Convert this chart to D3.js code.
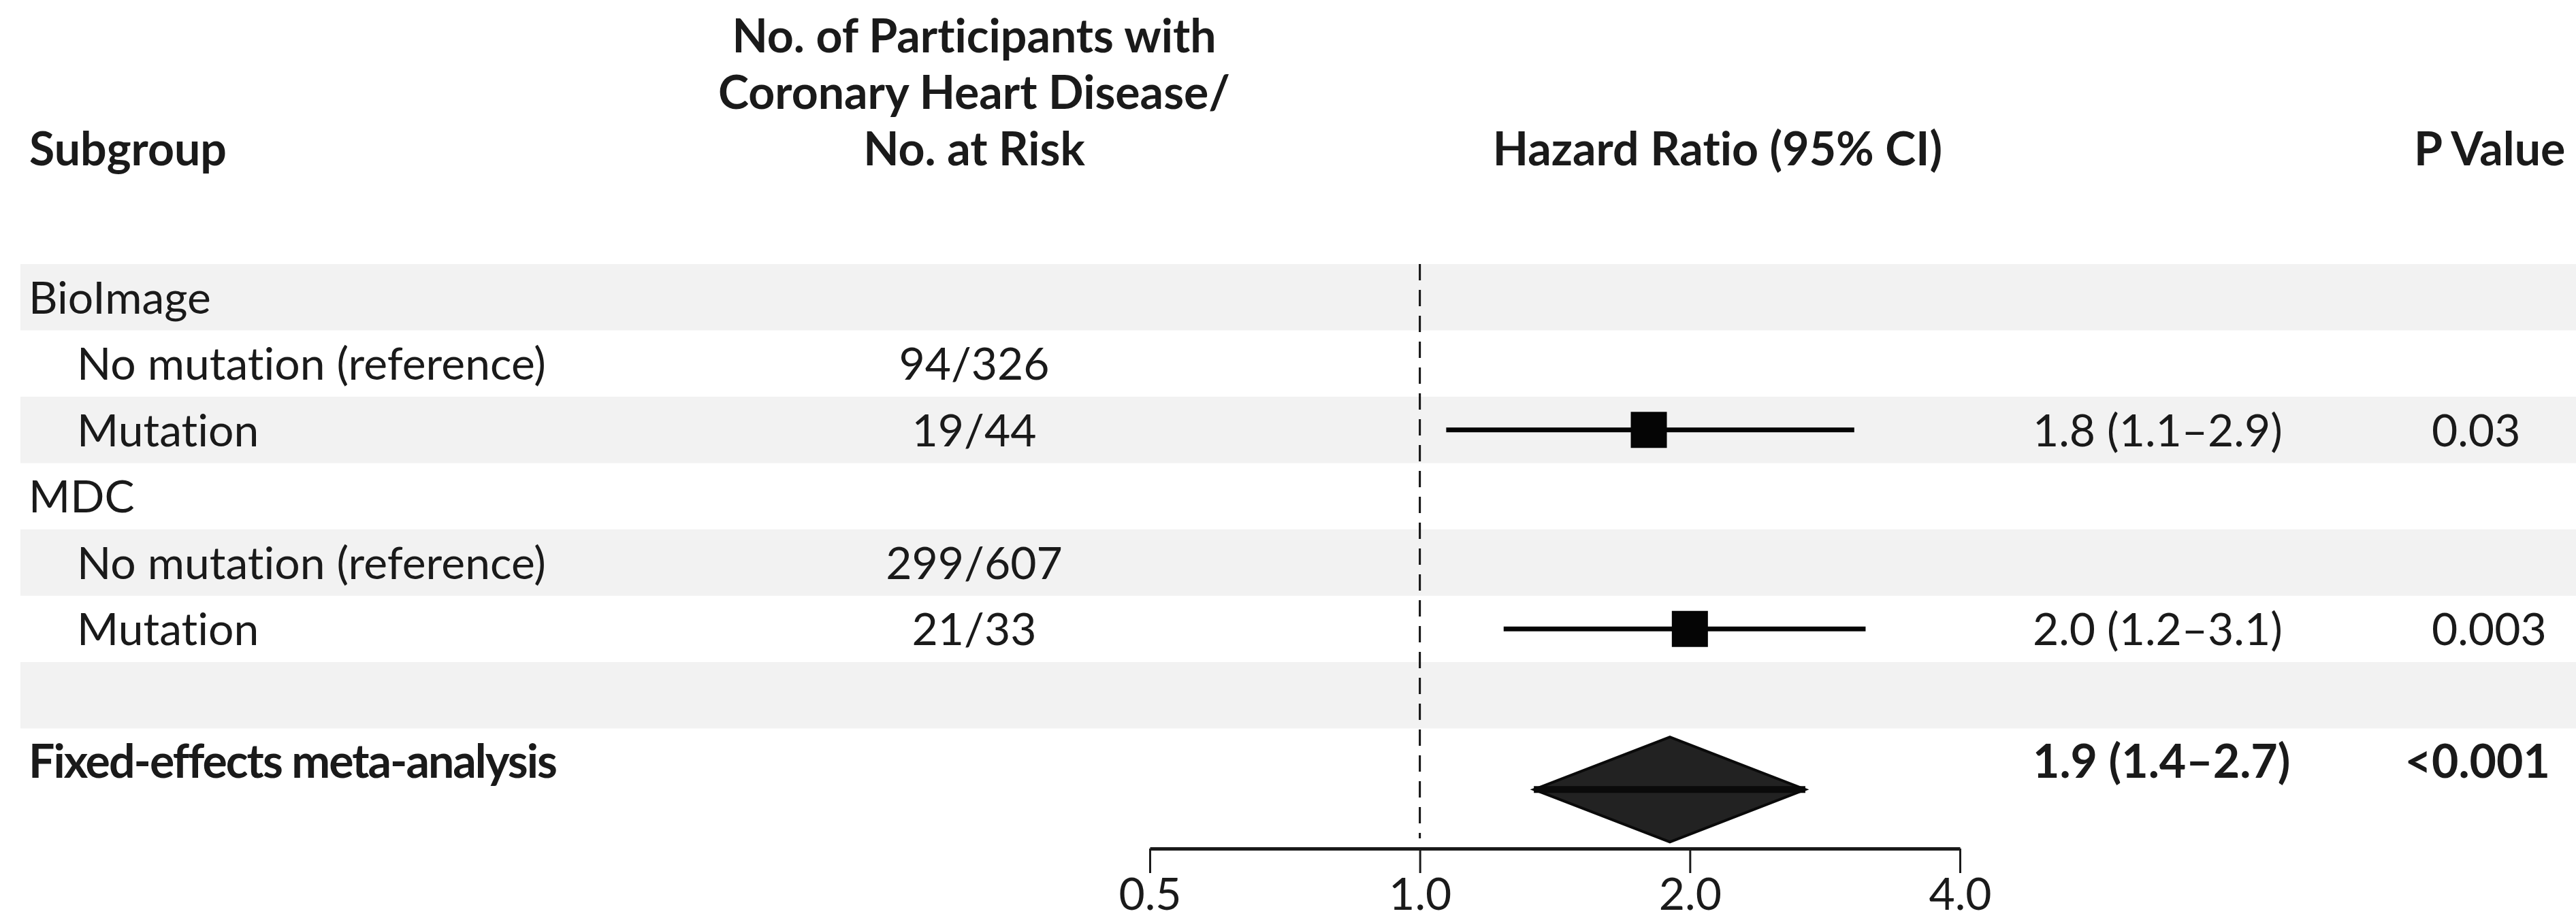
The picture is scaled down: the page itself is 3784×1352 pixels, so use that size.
<!DOCTYPE html>
<html lang="en">
<head>
  <meta charset="UTF-8">
  <title>Forest Plot</title>
  <script src="https://d3js.org/d3.v7.min.js"></script>
  <style>
    body {
      margin: 0;
      padding: 0;
      background: #fff;
    }
    svg text {
      font-family: Lato, "Open Sans", sans-serif;
      font-size: 66px;
      fill: #1a1a1a;
      font-variant-ligatures: none;
      font-feature-settings: "liga" 0, "clig" 0;
    }
    svg text.bold {
      font-weight: bold;
      font-size: 68px;
    }
    svg text.tight {
      letter-spacing: -2px;
    }
  </style>
</head>
<body>
  <div id="chart"></div>

  <script>
    const labels = ["BioImage", "No mutation (reference)", "Mutation", "MDC",
                    "No mutation (reference)", "Mutation", "", "Fixed-effects meta-analysis"];
    const indent = [0, 1, 1, 0, 1, 1, 0, 0];
    const counts = ["", "94/326", "19/44", "", "299/607", "21/33", "", ""];
    const hr = [null, null, 1.8, null, null, 2.0, null, 1.9];
    const ciLow = [null, null, 1.07, null, null, 1.24, null, 1.34];
    const ciHigh = [null, null, 3.05, null, null, 3.14, null, 2.69];
    const hrText = ["", "", "1.8 (1.1–2.9)", "", "", "2.0 (1.2–3.1)", "", "1.9 (1.4–2.7)"];
    const pText = ["", "", "0.03", "", "", "0.003", "", "<0.001"];
    const summaryRow = 7;
    const ticks = [0.5, 1, 2, 4];
    const countHeader = ["No. of Participants with", "Coronary Heart Disease/", "No. at Risk"];

    const width = 3784;
    const height = 1352;

    const svg = d3.select("#chart")
      .append("svg")
      .attr("width", width)
      .attr("height", height);

    const y = d3.scaleBand()
      .domain(d3.range(labels.length))
      .range([388, 388 + labels.length * 97.5]);

    const x = d3.scaleLog()
      .domain([0.5, 4])
      .range([1689, 2879]);

    const mid = i => y(i) + y.bandwidth() / 2;
    const base = i => mid(i) + 24;

    // Shaded bands on every other row
    svg.selectAll(".band")
      .data(d3.range(labels.length).filter(i => i % 2 === 0))
      .enter()
      .append("rect")
      .attr("x", 30)
      .attr("y", d => y(d))
      .attr("width", width - 30)
      .attr("height", y.bandwidth())
      .attr("fill", "#f2f2f2");

    // Headers
    svg.append("text").attr("class", "bold")
      .attr("x", 43).attr("y", 243).text("Subgroup");

    svg.selectAll(".chead")
      .data(countHeader)
      .enter()
      .append("text")
      .attr("class", "bold")
      .attr("x", 1431)
      .attr("y", (d, i) => 77 + i * 83)
      .attr("text-anchor", "middle")
      .text(d => d);

    svg.append("text").attr("class", "bold")
      .attr("x", 2523).attr("y", 243).attr("text-anchor", "middle")
      .text("Hazard Ratio (95% CI)");

    svg.append("text").attr("class", "bold")
      .attr("x", 3546).attr("y", 243).text("P Value");

    // Reference line at 1.0
    svg.append("line")
      .attr("x1", x(1)).attr("x2", x(1))
      .attr("y1", y(0)).attr("y2", 1232)
      .attr("stroke", "#111")
      .attr("stroke-width", 3)
      .attr("stroke-dasharray", "24,14");

    // Row labels
    svg.selectAll(".label")
      .data(labels)
      .enter()
      .append("text")
      .attr("class", (d, i) => i === summaryRow ? "bold tight" : null)
      .attr("x", (d, i) => indent[i] ? 113 : 42)
      .attr("y", (d, i) => base(i))
      .text(d => d);

    svg.selectAll(".count")
      .data(counts)
      .enter()
      .append("text")
      .attr("x", 1431)
      .attr("y", (d, i) => base(i))
      .attr("text-anchor", "middle")
      .text(d => d);

    svg.selectAll(".hrtext")
      .data(hrText)
      .enter()
      .append("text")
      .attr("class", (d, i) => i === summaryRow ? "bold" : null)
      .attr("x", 2986)
      .attr("y", (d, i) => base(i))
      .text(d => d);

    // P values: "<" hangs to the left of the column
    pText.forEach((p, i) => {
      if (!p) return;
      const t = svg.append("text")
        .attr("class", i === summaryRow ? "bold" : null)
        .attr("x", 3572)
        .attr("y", base(i));
      if (p.startsWith("<")) {
        svg.append("text")
          .attr("class", i === summaryRow ? "bold" : null)
          .attr("x", 3572).attr("y", base(i))
          .attr("text-anchor", "end")
          .text("<");
        t.text(p.slice(1));
      } else {
        t.text(p);
      }
    });

    // Study estimates
    const studies = d3.range(labels.length).filter(i => hr[i] != null && i !== summaryRow);

    svg.selectAll(".ci")
      .data(studies)
      .enter()
      .append("line")
      .attr("x1", i => x(ciLow[i]))
      .attr("x2", i => x(ciHigh[i]))
      .attr("y1", i => mid(i))
      .attr("y2", i => mid(i))
      .attr("stroke", "#050505")
      .attr("stroke-width", 7);

    const sq = 53;
    svg.selectAll(".est")
      .data(studies)
      .enter()
      .append("rect")
      .attr("x", i => x(hr[i]) - sq / 2)
      .attr("y", i => mid(i) - sq / 2)
      .attr("width", sq)
      .attr("height", sq)
      .attr("fill", "#050505");

    // Summary diamond
    const dy = mid(summaryRow) + 41;
    const dh = 77;
    svg.append("polygon")
      .attr("points", [
        [x(ciLow[summaryRow]), dy],
        [x(hr[summaryRow]), dy - dh],
        [x(ciHigh[summaryRow]), dy],
        [x(hr[summaryRow]), dy + dh]
      ].map(p => p.join(",")).join(" "))
      .attr("fill", "#222")
      .attr("stroke", "#0a0a0a")
      .attr("stroke-width", 4)
      .attr("stroke-linejoin", "miter");

    svg.append("line")
      .attr("x1", x(ciLow[summaryRow])).attr("x2", x(ciHigh[summaryRow]))
      .attr("y1", dy).attr("y2", dy)
      .attr("stroke", "#0a0a0a")
      .attr("stroke-width", 10);

    // Axis
    const axis = d3.axisBottom(x)
      .tickValues(ticks)
      .tickFormat(d3.format(".1f"))
      .tickSize(36)
      .tickSizeOuter(0)
      .tickPadding(7);

    const g = svg.append("g")
      .attr("transform", "translate(0,1247)")
      .call(axis);

    g.select(".domain").attr("stroke", "#1a1a1a").attr("stroke-width", 5);
    g.selectAll(".tick line").attr("stroke", "#1a1a1a").attr("stroke-width", 3);
    g.selectAll(".tick text")
      .attr("font-family", null)
      .attr("font-size", null)
      .attr("fill", "#1a1a1a");
  </script>
</body>
</html>
